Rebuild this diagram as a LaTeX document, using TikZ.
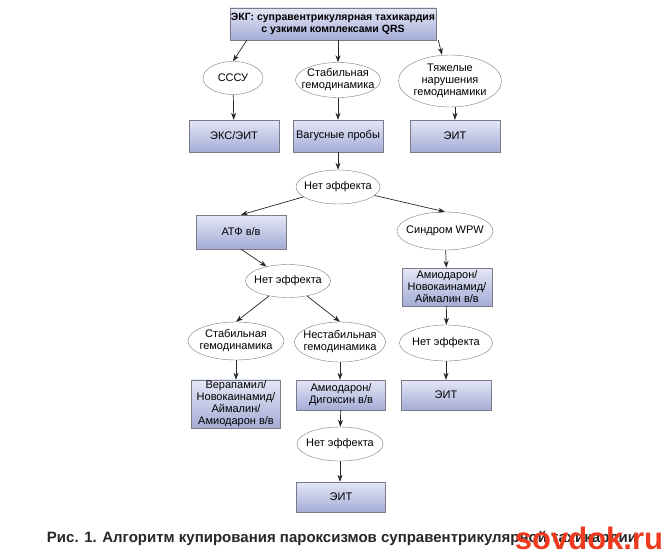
\documentclass[tikz,border=0pt]{standalone}
\usepackage{fontspec}
\setmainfont{Liberation Sans}
\usetikzlibrary{arrows.meta,shapes.geometric}
\definecolor{boxtop}{HTML}{E4E7F6}
\definecolor{boxbot}{HTML}{A4ACD6}
\definecolor{edge}{HTML}{7A7A88}
\definecolor{wmred}{HTML}{EE3A1E}
\tikzset{%
  drug/.style={draw=edge, top color=boxtop, bottom color=boxbot,
               align=center, inner sep=1pt, font=\fontsize{11}{12}\selectfont},
  state/.style={draw=edge, ellipse, fill=white, align=center,
                inner xsep=-25pt, inner ysep=-12pt,
                font=\fontsize{11}{12}\selectfont},
  arr/.style={-{Stealth[length=7pt,width=5pt]}, line width=0.7pt, draw=black!85},
}

\begin{document}
\begin{tikzpicture}[x=1pt,y=-1pt]
  \useasboundingbox (0,0) rectangle (671,559);
  % top
  \node[drug, minimum width=200pt, minimum height=32pt,
        font=\fontsize{10.5}{12}\selectfont\bfseries] (ecg) at (333,24)
        {ЭКГ: суправентрикулярная тахикардия\\с узкими комплексами QRS};
  % second row
  \node[state, minimum width=60pt, minimum height=33pt] (sssu) at (233,78) {СССУ};
  \node[state, minimum width=85pt, minimum height=35pt] (stab) at (338,80)
        {Стабильная\\гемодинамика};
  \node[state, minimum width=103pt, minimum height=52pt] (heavy) at (450,81)
        {Тяжелые\\нарушения\\гемодинамики};
  \node[drug, minimum width=90pt, minimum height=32pt] (eks) at (234,136) {ЭКС/ЭИТ};
  \node[drug, minimum width=90pt, minimum height=32pt] (vagus) at (338,136) {Вагусные пробы};
  \node[drug, minimum width=90pt, minimum height=32pt] (eitA) at (455,136) {ЭИТ};
  % first failure
  \node[state, minimum width=84pt, minimum height=34pt] (noeffA) at (338,187) {Нет эффекта};
  \node[drug, minimum width=90pt, minimum height=34pt] (atf) at (241,232) {АТФ в/в};
  \node[state, minimum width=96pt, minimum height=38pt] (wpw) at (445,231) {Синдром WPW};
  \node[drug, minimum width=90pt, minimum height=38pt] (amioA) at (447,287)
        {Амиодарон/\\Новокаинамид/\\Аймалин в/в};
  \node[state, minimum width=93pt, minimum height=36pt] (noeffR) at (446,343) {Нет эффекта};
  \node[drug, minimum width=90pt, minimum height=30pt] (eitR) at (446,395) {ЭИТ};
  % ATF branch
  \node[state, minimum width=85pt, minimum height=33pt] (noeffB) at (288,281) {Нет эффекта};
  \node[state, minimum width=96pt, minimum height=38pt] (stabB) at (236,341)
        {Стабильная\\гемодинамика};
  \node[state, minimum width=91pt, minimum height=40pt] (unstab) at (340,342)
        {Нестабильная\\гемодинамика};
  \node[drug, minimum width=89pt, minimum height=48pt] (verap) at (236,404)
        {Верапамил/\\Новокаинамид/\\Аймалин/\\Амиодарон в/в};
  \node[drug, minimum width=89pt, minimum height=30pt] (amioB) at (341,395)
        {Амиодарон/\\Дигоксин в/в};
  \node[state, minimum width=86pt, minimum height=34pt] (noeffC) at (340,444) {Нет эффекта};
  \node[drug, minimum width=89pt, minimum height=30pt] (eitB) at (341,497) {ЭИТ};
  % caption and mark
  \node[font=\fontsize{15}{17}\selectfont\bfseries, text=black!85] (caption) at (342,538)
        {Рис. 1. Алгоритм купирования пароксизмов суправентрикулярной тахикардии};
  \node[font=\fontsize{31}{33}\selectfont\bfseries, text=wmred] (mark) at (589,538) {sovdok.ru};

  \draw[arr] ([xshift=17pt]ecg.south west) -- (sssu.north);
  \draw[arr] (ecg.south -| stab) -- (stab.north);
  \draw[arr] ([xshift=2pt]ecg.south east) -- ([xshift=-8pt]heavy.north);
  \draw[arr] (sssu) -- (eks);
  \draw[arr] (stab) -- (vagus);
  \draw[arr] (heavy.south -| eitA) -- (eitA);
  \draw[arr] (vagus) -- (noeffA);
  \draw[arr] (noeffA) -- (atf.north);
  \draw[arr] (noeffA) -- (wpw.north);
  \draw[arr] (wpw) -- (amioA);
  \draw[arr] (amioA) -- (noeffR);
  \draw[arr] (noeffR) -- (eitR);
  \draw[arr] (atf.south) -- (noeffB);
  \draw[arr] (noeffB) -- (stabB.north);
  \draw[arr] (noeffB) -- (unstab.north);
  \draw[arr] (stabB) -- (verap);
  \draw[arr] (unstab) -- (unstab |- amioB.north);
  \draw[arr] (amioB) -- (noeffC);
  \draw[arr] (noeffC) -- (noeffC |- eitB.north);
\end{tikzpicture}
\end{document}
